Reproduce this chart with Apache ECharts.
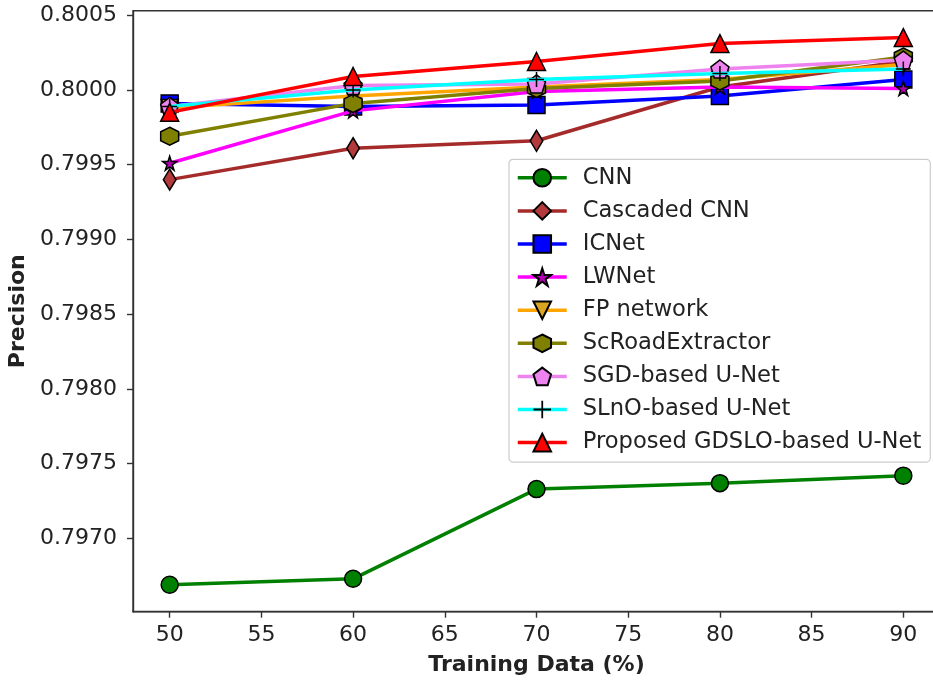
<!DOCTYPE html>
<html>
<head>
<meta charset="utf-8">
<script src="https://cdn.jsdelivr.net/npm/echarts@6/dist/echarts.min.js"></script>
<style>
html,body{margin:0;padding:0;background:#fff;}
#chart{width:933px;height:683px;}
</style>
</head>
<body>
<div id="chart"></div>
<script>
const trainingData = [50, 60, 70, 80, 90];
const xTicks = [50, 55, 60, 65, 70, 75, 80, 85, 90];
const yTicks = [0.7970, 0.7975, 0.7980, 0.7985, 0.7990, 0.7995, 0.8000, 0.8005];

const cnn       = [0.79669, 0.79673, 0.79733, 0.79737, 0.79742];
const cascaded  = [0.79940, 0.79961, 0.79966, 0.80002, 0.80019];
const icnet     = [0.79991, 0.79989, 0.79990, 0.79996, 0.80007];
const lwnet     = [0.79951, 0.79986, 0.79999, 0.80002, 0.80001];
const fpNetwork = [0.79988, 0.79996, 0.80002, 0.80007, 0.80017];
const scRoad    = [0.79969, 0.79991, 0.80001, 0.80006, 0.80022];
const sgdUNet   = [0.79989, 0.80003, 0.80004, 0.80014, 0.80020];
const slnoUNet  = [0.79989, 0.80000, 0.80007, 0.80011, 0.80014];
const proposed  = [0.79985, 0.80009, 0.80019, 0.80031, 0.80035];

const names = ['CNN', 'Cascaded CNN', 'ICNet', 'LWNet', 'FP network', 'ScRoadExtractor', 'SGD-based U-Net', 'SLnO-based U-Net', 'Proposed GDSLO-based U-Net'];
const values = [cnn, cascaded, icnet, lwnet, fpNetwork, scRoad, sgdUNet, slnoUNet, proposed];

const STAR = 'path://M50,0 L61.8,35.1 L98.8,35.1 L68.9,56.8 L80.3,91.9 L50,70.2 L19.7,91.9 L31.1,56.8 L1.2,35.1 L38.2,35.1 Z';
const HEX = 'path://M50,0 L93.3,25 L93.3,75 L50,100 L6.7,75 L6.7,25 Z';
const PENT = 'path://M50,0 L97.6,34.5 L79.4,90.5 L20.6,90.5 L2.4,34.5 Z';
const PLUS = 'path://M45,0 L55,0 L55,45 L100,45 L100,55 L55,55 L55,100 L45,100 L45,55 L0,55 L0,45 L45,45 Z';
const TRI_DOWN = 'path://M0,0 L100,0 L50,100 Z';
const THIN_DIAMOND = 'path://M30,0 L60,50 L30,100 L0,50 Z';

const styles = [
  {line:'#008000', face:'#008000', symbol:'circle', size:17},
  {line:'#a52a2a', face:'#b23a3a', symbol:THIN_DIAMOND, size:21, keep:true},
  {line:'#0000ff', face:'#0000ff', symbol:'rect', size:17},
  {line:'#ff00ff', face:'#b000b0', symbol:STAR, size:14},
  {line:'#ffa500', face:'#daa520', symbol:TRI_DOWN, size:17},
  {line:'#808000', face:'#808000', symbol:HEX, size:18},
  {line:'#ee82ee', face:'#ee82ee', symbol:PENT, size:18},
  {line:'#00ffff', face:'#000000', symbol:PLUS, size:15, plus:true},
  {line:'#ff0000', face:'#ff0000', symbol:'triangle', size:18}
];

const series = names.map((n, i) => {
  const s = styles[i];
  return {
    name: n,
    type: 'line',
    data: trainingData.map((x, j) => [x, values[i][j]]),
    symbol: s.symbol,
    symbolSize: s.size,
    symbolKeepAspect: !!s.keep,
    showAllSymbol: true,
    lineStyle: {color: s.line, width: 3.5},
    itemStyle: s.plus ? {color: '#000', borderColor: '#000', borderWidth: 0} : {color: s.face, borderColor: '#000', borderWidth: 1.5},
    emphasis: {disabled: true},
    z: 2 + i
  };
});

const chart = echarts.init(document.getElementById('chart'), null, {renderer: 'canvas'});
const FONT = 'DejaVu Sans';
chart.setOption({
  animation: false,
  backgroundColor: '#ffffff',
  textStyle: {fontFamily: FONT},
  grid: {left: 133, top: 10.7, width: 807, height: 601, show: true, borderColor: '#333', borderWidth: 1.4, backgroundColor: 'transparent', containLabel: false, outerBoundsMode: 'none'},
  xAxis: {
    type: 'value', min: 48, max: 92,
    name: 'Training Data (%)', nameLocation: 'middle', nameGap: 43,
    nameTextStyle: {fontFamily: FONT, fontWeight: 'bold', fontSize: 22, color: '#222'},
    axisLine: {show: true, lineStyle: {color: '#333', width: 1.4}},
    axisTick: {show: true, length: 6, lineStyle: {color: '#333', width: 1.4}, customValues: xTicks},
    axisLabel: {fontFamily: FONT, fontSize: 22, color: '#222', margin: 13, customValues: xTicks, formatter: v => String(v)},
    splitLine: {show: false}
  },
  yAxis: {
    type: 'value', min: 0.79651, max: 0.80053,
    name: 'Precision', nameLocation: 'middle', nameGap: 103, nameRotate: 90,
    nameTextStyle: {fontFamily: FONT, fontWeight: 'bold', fontSize: 22, color: '#222'},
    axisLine: {show: true, lineStyle: {color: '#333', width: 1.4}},
    axisTick: {show: true, length: 6, lineStyle: {color: '#333', width: 1.4}, customValues: yTicks},
    axisLabel: {fontFamily: FONT, fontSize: 22, color: '#222', margin: 16, customValues: yTicks, formatter: v => v.toFixed(4)},
    splitLine: {show: false}
  },
  legend: {
    orient: 'vertical', left: 509, top: 159.3,
    data: names,
    itemWidth: 49, itemHeight: 22, itemGap: 10.1,
    padding: [7, 9, 8, 7],
    backgroundColor: 'rgba(255,255,255,0.85)',
    borderColor: '#cccccc', borderWidth: 1.2, borderRadius: 4,
    lineStyle: {width: 3.5},
    textStyle: {fontFamily: FONT, fontSize: 22.6, color: '#222', padding: [0, 0, 0, 11]},
    selectedMode: false
  },
  series: series
});
</script>
</body>
</html>
